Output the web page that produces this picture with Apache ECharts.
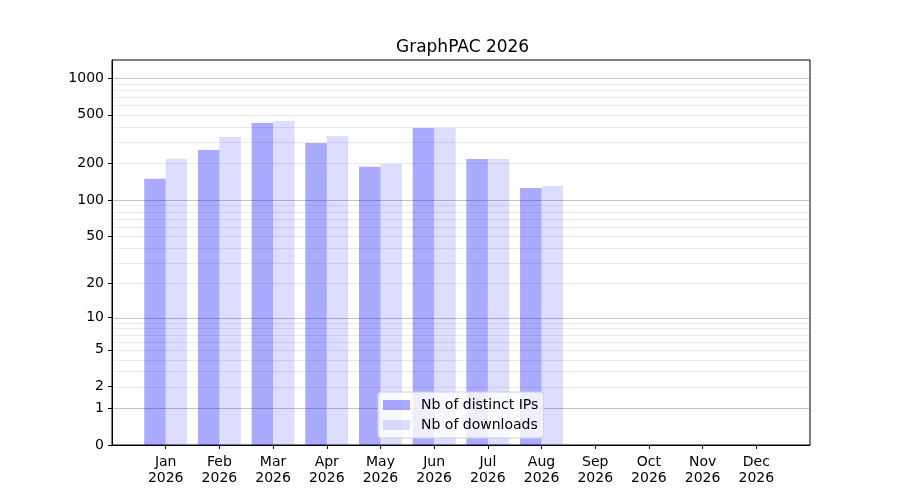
<!DOCTYPE html>
<html>
<head>
<meta charset="utf-8">
<script src="https://cdn.jsdelivr.net/npm/echarts@6/dist/echarts.min.js"></script>
<style>
  html, body { margin: 0; padding: 0; background: #fff; }
  #chart { width: 900px; height: 500px; }
</style>
</head>
<body>
<div id="chart"></div>
<script>
// months (blank slots at both ends give the half-empty margins)
var months = ['', 'Jan', 'Feb', 'Mar', 'Apr', 'May', 'Jun', 'Jul', 'Aug', 'Sep', 'Oct', 'Nov', 'Dec', ''];
var year = '2026';
var distinctIPs = [null, 149, 257, 428, 293, 187, 390, 217, 125, 0, 0, 0, 0, null];
var downloads = [null, 218, 329, 445, 335, 197, 390, 217, 130, 0, 0, 0, 0, null];
// y tick labels and gridlines (scale is log10(1 + v))
var yTicks = [0, 1, 2, 5, 10, 20, 50, 100, 200, 500, 1000];
var majorGrid = [1, 10, 100, 1000];
var minorGrid = [2, 3, 4, 5, 6, 7, 8, 9, 20, 30, 40, 50, 60, 70, 80, 90, 200, 300, 400, 500, 600, 700, 800, 900];

function tr(v) {
  return v == null ? null : Math.log10(1 + v);
}
function back(t) {
  return Math.round(Math.pow(10, t) - 1);
}

var font = 'DejaVu Sans';

// horizontal gridlines across the plot area
function gridSeries(name, vals, color) {
  return {
    name: name,
    type: 'custom',
    z: 1,
    silent: true,
    clip: true,
    data: vals.map(tr),
    encode: { y: 0 },
    renderItem: function (params, api) {
      var cs = params.coordSys;
      var y = Math.round(api.coord([0, api.value(0)])[1]) + 0.5;
      return {
        type: 'line',
        shape: { x1: cs.x + 1, y1: y, x2: cs.x + cs.width - 1, y2: y },
        style: { stroke: color, lineWidth: 1 }
      };
    }
  };
}

var chart = echarts.init(document.getElementById('chart'), null, { renderer: 'canvas' });
chart.setOption({
  animation: false,
  backgroundColor: '#fff',
  textStyle: { fontFamily: font },
  title: {
    text: 'GraphPAC ' + year,
    left: 391,
    top: 34,
    textStyle: { fontFamily: font, fontSize: 17, fontWeight: 'normal', color: '#000' }
  },
  legend: {
    orient: 'vertical',
    left: 378,
    top: 392,
    itemWidth: 27,
    itemHeight: 10,
    itemGap: 6,
    padding: [6, 5, 6, 5],
    icon: 'rect',
    backgroundColor: 'rgba(255,255,255,0.8)',
    borderColor: '#d0d0d0',
    borderWidth: 1,
    borderRadius: 3,
    textStyle: { fontFamily: font, fontSize: 14, color: '#000', padding: [0, 0, 0, 6] },
    data: ['Nb of distinct IPs', 'Nb of downloads']
  },
  grid: {
    left: 112,
    right: 90,
    top: 60,
    bottom: 55,
    show: true,
    borderColor: '#000',
    borderWidth: 1,
    containLabel: false
  },
  xAxis: {
    type: 'category',
    data: months,
    boundaryGap: false,
    axisLine: { lineStyle: { color: '#000' } },
    axisTick: {
      length: 4,
      lineStyle: { color: '#000' },
      interval: function (i) { return i > 0 && i < months.length - 1; }
    },
    axisLabel: {
      interval: 0,
      margin: 9,
      fontFamily: font,
      fontSize: 14,
      lineHeight: 16,
      color: '#000',
      formatter: function (m) { return m ? m + '\n' + year : ''; }
    },
    splitLine: { show: false }
  },
  yAxis: {
    type: 'value',
    min: 0,
    max: 3.148,
    axisLine: { show: true, lineStyle: { color: '#000' } },
    axisTick: {
      show: true,
      length: 4,
      lineStyle: { color: '#000' },
      customValues: yTicks.map(tr)
    },
    axisLabel: {
      fontFamily: font,
      fontSize: 14,
      color: '#000',
      margin: 8,
      customValues: yTicks.map(tr),
      formatter: function (t) { return String(back(t)); }
    },
    splitLine: { show: false },
    minorTick: { show: false },
    minorSplitLine: { show: false }
  },
  series: [
    gridSeries('minor grid', minorGrid, '#ebebeb'),
    gridSeries('major grid', majorGrid, '#c4c4c4'),
    {
      name: 'Nb of distinct IPs',
      type: 'bar',
      z: 2,
      barWidth: '40%',
      barGap: '0%',
      itemStyle: { color: 'rgba(0,0,255,0.333)' },
      data: distinctIPs.map(tr)
    },
    {
      name: 'Nb of downloads',
      type: 'bar',
      z: 2,
      barWidth: '40%',
      barGap: '0%',
      itemStyle: { color: 'rgba(0,0,255,0.133)' },
      data: downloads.map(tr)
    }
  ]
});
</script>
</body>
</html>
